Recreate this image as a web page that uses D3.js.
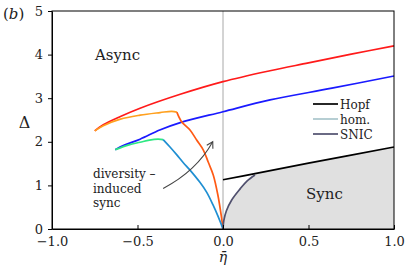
<!DOCTYPE html>
<html>
<head>
<meta charset="utf-8">
<script src="https://cdn.jsdelivr.net/npm/d3@7"></script>
<style>
  body { margin: 0; background: #fff; }
</style>
</head>
<body>
<script>
// curve data, [eta, Delta]
const redCurve = [[-0.75, 2.25], [-0.7, 2.39], [-0.6, 2.58], [-0.485, 2.77], [-0.25, 3.09], [0, 3.38], [0.275, 3.63], [0.5, 3.81], [0.75, 4.01], [1, 4.2]];
const blueCurve = [[-0.63, 1.82], [-0.58, 1.92], [-0.485, 2.06], [-0.37, 2.27], [-0.25, 2.44], [0, 2.69], [0.275, 2.96], [0.637, 3.23], [1, 3.51]];
const orangeUpper = [[-0.75, 2.25], [-0.7, 2.37], [-0.6, 2.52], [-0.485, 2.61], [-0.368, 2.67], [-0.3, 2.7], [-0.27, 2.68]];
const orangeLower = [[-0.27, 2.68], [-0.242, 2.46], [-0.193, 2.27], [-0.154, 2.04], [-0.115, 1.81], [-0.086, 1.53], [-0.057, 1.24], [-0.03, 0.78], [-0.01, 0.3], [0, 0]];
const greenUpper = [[-0.63, 1.82], [-0.55, 1.93], [-0.485, 1.99], [-0.43, 2.04], [-0.38, 2.06], [-0.35, 2.05]];
const tealLower = [[-0.35, 2.05], [-0.31, 1.88], [-0.27, 1.7], [-0.232, 1.52], [-0.193, 1.35], [-0.135, 1.07], [-0.095, 0.84], [-0.057, 0.54], [-0.03, 0.3], [0, 0]];
const snicCurve = [[0, 0], [0.005, 0.2], [0.02, 0.42], [0.05, 0.66], [0.1, 0.92], [0.14, 1.1], [0.187, 1.24]];
const hopfCurve = [[0, 1.13], [0.187, 1.27], [0.5, 1.51], [1, 1.88]];

const xTicks = [-1, -0.5, 0, 0.5, 1];
const yTicks = [0, 1, 2, 3, 4, 5];

const legendItems = [
  { label: "Hopf", color: "#000000" },
  { label: "hom.", color: "#a9c6cc" },
  { label: "SNIC", color: "#50506e" }
];

const serif = "DejaVu Serif";
const width = 409, height = 273;
const marginTop = 11, marginRight = 15, marginBottom = 44, marginLeft = 52;

const svg = d3.select("body").append("svg")
  .attr("width", width)
  .attr("height", height)
  .attr("viewBox", [0, 0, width, height])
  .attr("font-family", serif);

const x = d3.scaleLinear().domain([-1, 1]).range([marginLeft, width - marginRight]);
const y = d3.scaleLinear().domain([0, 5]).range([height - marginBottom, marginTop]);

const line = d3.line().x(d => x(d[0])).y(d => y(d[1])).curve(d3.curveCatmullRom);

// sync region: right of SNIC, under Hopf
const fillPts = snicCurve.concat(hopfCurve.filter(d => d[0] >= 0.187), [[1, 0]]);
svg.append("path")
  .attr("d", d3.line().x(d => x(d[0])).y(d => y(d[1]))(fillPts) + "Z")
  .attr("fill", "#e0e0e0");

// vertical line at eta = 0
svg.append("line")
  .attr("x1", x(0)).attr("x2", x(0))
  .attr("y1", y(5)).attr("y2", y(0))
  .attr("stroke", "#a8a8a8")
  .attr("stroke-width", 1);

const curves = [
  { data: redCurve, color: "#ff1a1a" },
  { data: blueCurve, color: "#1a1aff" },
  { data: orangeUpper, color: "#ffa01e" },
  { data: orangeLower, color: "#ff5a14" },
  { data: greenUpper, color: "#2ee882" },
  { data: tealLower, color: "#1f8fd2" },
  { data: snicCurve, color: "#50506e" },
  { data: hopfCurve, color: "#000000" }
];

svg.append("g")
  .attr("fill", "none")
  .attr("stroke-width", 1.7)
  .attr("stroke-linejoin", "round")
  .selectAll("path")
  .data(curves)
  .join("path")
    .attr("d", d => line(d.data))
    .attr("stroke", d => d.color);

// arrow for diversity-induced sync
svg.append("defs").append("marker")
  .attr("id", "arrowhead")
  .attr("viewBox", "-8 -5 10 10")
  .attr("markerWidth", 10).attr("markerHeight", 10)
  .attr("markerUnits", "userSpaceOnUse")
  .attr("orient", "auto")
  .append("path")
    .attr("d", "M-6,-3.5L0,0L-6,3.5")
    .attr("fill", "none")
    .attr("stroke", "#444")
    .attr("stroke-width", 1.1);

const arrowPath = d3.path();
arrowPath.moveTo(x(-0.35), y(0.93));
arrowPath.quadraticCurveTo(x(-0.155), y(1.33), x(-0.06), y(2.0));
svg.append("path")
  .attr("d", arrowPath.toString())
  .attr("fill", "none")
  .attr("stroke", "#444")
  .attr("stroke-width", 1.1)
  .attr("marker-end", "url(#arrowhead)");

// frame
svg.append("rect")
  .attr("x", x(-1)).attr("y", y(5))
  .attr("width", x(1) - x(-1)).attr("height", y(0) - y(5))
  .attr("fill", "none")
  .attr("stroke", "#000")
  .attr("stroke-width", 1);

// axes
svg.append("g")
  .attr("transform", `translate(0,${y(0)})`)
  .call(d3.axisBottom(x).tickValues(xTicks).tickSizeInner(-4).tickSizeOuter(0).tickPadding(8).tickFormat(d3.format(".1f")))
  .call(g => g.attr("font-family", serif).attr("font-size", 13))
  .call(g => g.selectAll("text").attr("fill", "#222"));

svg.append("g")
  .attr("transform", `translate(${x(-1)},0)`)
  .call(d3.axisLeft(y).tickValues(yTicks).tickSizeInner(4).tickSizeOuter(0).tickPadding(5).tickFormat(d3.format("d")))
  .call(g => g.attr("font-family", serif).attr("font-size", 13))
  .call(g => g.selectAll("text").attr("fill", "#222"));

// labels
svg.append("text").attr("x", 95).attr("y", 60).attr("font-size", 15).attr("fill", "#222").text("Async");
svg.append("text").attr("x", 306).attr("y", 199).attr("font-size", 15).attr("fill", "#222").text("Sync");

const divText = svg.append("text").attr("font-size", 12).attr("fill", "#222");
["diversity \u2013", "induced", "sync"].forEach((t, i) => {
  divText.append("tspan").attr("x", 93).attr("y", 178 + i * 14.5).text(t);
});

svg.append("text").attr("x", 3).attr("y", 19).attr("font-size", 15).attr("fill", "#222")
  .html('(<tspan font-style="italic">b</tspan>)');

svg.append("text").attr("x", 24.5).attr("y", 128).attr("text-anchor", "middle")
  .attr("font-size", 16).attr("fill", "#222").text("\u0394");

svg.append("text").attr("x", x(0)).attr("y", 262).attr("text-anchor", "middle")
  .attr("font-size", 14).attr("font-style", "italic").attr("fill", "#222").text("\u03B7\u0304");

// legend
const legend = svg.append("g")
  .selectAll("g")
  .data(legendItems)
  .join("g")
    .attr("transform", (d, i) => `translate(313,${104 + i * 15})`);

legend.append("line")
  .attr("x1", 0).attr("x2", 25)
  .attr("stroke", d => d.color)
  .attr("stroke-width", 1.7);

legend.append("text")
  .attr("x", 27).attr("y", 5)
  .attr("font-size", 12)
  .attr("fill", "#222")
  .text(d => d.label);
</script>
</body>
</html>
